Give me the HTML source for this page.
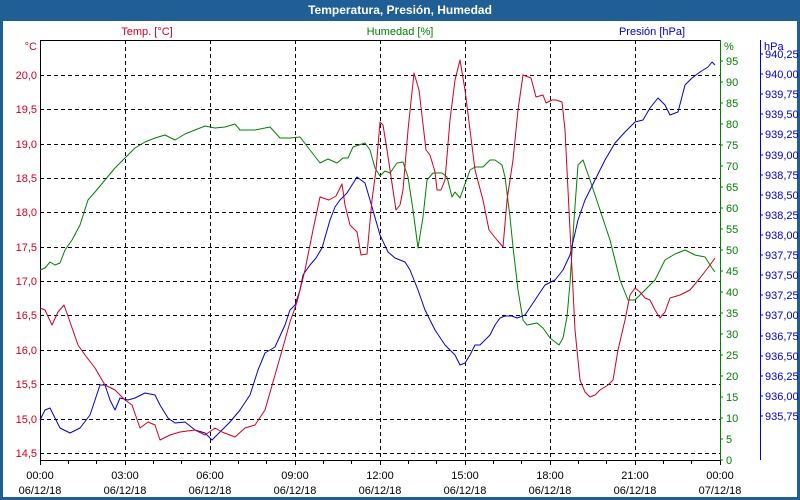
<!DOCTYPE html>
<html><head><meta charset="utf-8"><style>
html,body{margin:0;padding:0;background:#fff}
svg{display:block}
text{font-family:"Liberation Sans","DejaVu Sans",sans-serif;font-size:11px}
</style></head><body>
<svg width="800" height="500" xmlns="http://www.w3.org/2000/svg">
<rect x="0" y="0" width="800" height="500" fill="#1f5f96"/>
<rect x="3" y="21" width="794" height="476" fill="#fff"/>
<text x="400" y="14" text-anchor="middle" fill="#fff" font-weight="bold" style="font-size:12px">Temperatura, Presión, Humedad</text>
<text x="147" y="35" text-anchor="middle" fill="#d00020">Temp. [°C]</text>
<text x="400" y="35" text-anchor="middle" fill="#008000">Humedad [%]</text>
<text x="652" y="35" text-anchor="middle" fill="#0000d0">Presión [hPa]</text>
<text x="37" y="50" text-anchor="end" fill="#d00020">°C</text>
<text x="724" y="50" fill="#008000">%</text>
<text x="764" y="50" fill="#0000d0">hPa</text>
<g stroke="#000" stroke-dasharray="4,3" stroke-width="1">
<path d="M40 75.5H720M40 109.5H720M40 144.5H720M40 178.5H720M40 212.5H720M40 247.5H720M40 281.5H720M40 315.5H720M40 350.5H720M40 384.5H720M40 419.5H720M40 453.5H720"/>
<path d="M125.5 40V460M210.5 40V460M295.5 40V460M380.5 40V460M465.5 40V460M550.5 40V460M635.5 40V460"/>
</g>
<path d="M40.5 40V460.5H720M40 40.5H720" stroke="#000" fill="none"/>
<path d="M720.5 40V460.5" stroke="#008000" fill="none"/>
<path d="M760.5 40V460" stroke="#0000d0" fill="none"/>
<g stroke="#000">
<path d="M40.5 460v5M68.5 460v4M96.5 460v4M125.5 460v5M153.5 460v4M181.5 460v4M210.5 460v5M238.5 460v4M266.5 460v4M295.5 460v5M323.5 460v4M351.5 460v4M380.5 460v5M408.5 460v4M436.5 460v4M465.5 460v5M493.5 460v4M521.5 460v4M550.5 460v5M578.5 460v4M606.5 460v4M635.5 460v5M663.5 460v4M691.5 460v4M720.5 460v5"/>
</g>
<g fill="#d00020" text-anchor="end">
<text x="37" y="79">20,0</text><text x="37" y="113">19,5</text><text x="37" y="148">19,0</text><text x="37" y="182">18,5</text><text x="37" y="216">18,0</text><text x="37" y="251">17,5</text><text x="37" y="285">17,0</text><text x="37" y="319">16,5</text><text x="37" y="354">16,0</text><text x="37" y="388">15,5</text><text x="37" y="423">15,0</text><text x="37" y="457">14,5</text>
</g>
<g fill="#008000" stroke="none">
<text x="726" y="464">0</text><text x="726" y="443">5</text><text x="726" y="422">10</text><text x="726" y="401">15</text><text x="726" y="380">20</text><text x="726" y="359">25</text><text x="726" y="338">30</text><text x="726" y="317">35</text><text x="726" y="296">40</text><text x="726" y="275">45</text><text x="726" y="254">50</text><text x="726" y="233">55</text><text x="726" y="212">60</text><text x="726" y="191">65</text><text x="726" y="170">70</text><text x="726" y="149">75</text><text x="726" y="128">80</text><text x="726" y="107">85</text><text x="726" y="86">90</text><text x="726" y="65">95</text>
</g>
<path d="M720 460h3M720 439h3M720 418h3M720 397h3M720 376h3M720 355h3M720 334h3M720 313h3M720 292h3M720 271h3M720 250h3M720 229h3M720 208h3M720 187h3M720 166h3M720 145h3M720 124h3M720 103h3M720 82h3M720 61h3" stroke="#008000"/>
<g fill="#0000d0">
<text x="765" y="420">935,75</text><text x="765" y="400">936,00</text><text x="765" y="380">936,25</text><text x="765" y="360">936,50</text><text x="765" y="340">936,75</text><text x="765" y="319">937,00</text><text x="765" y="299">937,25</text><text x="765" y="279">937,50</text><text x="765" y="259">937,75</text><text x="765" y="239">938,00</text><text x="765" y="219">938,25</text><text x="765" y="199">938,50</text><text x="765" y="179">938,75</text><text x="765" y="159">939,00</text><text x="765" y="138">939,25</text><text x="765" y="118">939,50</text><text x="765" y="98">939,75</text><text x="765" y="78">940,00</text><text x="765" y="58">940,25</text>
</g>
<path d="M760 416h3M760 396h3M760 376h3M760 356h3M760 336h3M760 315h3M760 295h3M760 275h3M760 255h3M760 235h3M760 215h3M760 195h3M760 175h3M760 155h3M760 134h3M760 114h3M760 94h3M760 74h3M760 54h3" stroke="#0000d0"/>
<g fill="#000" text-anchor="middle">
<text x="40" y="479">00:00</text><text x="40" y="494">06/12/18</text>
<text x="125" y="479">03:00</text><text x="125" y="494">06/12/18</text>
<text x="210" y="479">06:00</text><text x="210" y="494">06/12/18</text>
<text x="295" y="479">09:00</text><text x="295" y="494">06/12/18</text>
<text x="380" y="479">12:00</text><text x="380" y="494">06/12/18</text>
<text x="465" y="479">15:00</text><text x="465" y="494">06/12/18</text>
<text x="550" y="479">18:00</text><text x="550" y="494">06/12/18</text>
<text x="635" y="479">21:00</text><text x="635" y="494">06/12/18</text>
<text x="720" y="479">00:00</text><text x="720" y="494">07/12/18</text>
</g>
<g fill="none" stroke-width="1" stroke-linejoin="round">
<polyline stroke="#008000" points="40,270 45,268 50,262 55,265 60,263 65,250 72,240 80,225 88,200 95,192 105,180 115,168 125,158 135,148 145,142 155,138 165,135 175,140 185,134 195,130 205,126 215,128 225,127 235,124 240,130 255,130 270,127 280,138 290,138 300,137 310,150 320,163 328,159 337,163 343,158 348,158 353,147 365,143 370,150 375,168 380,176 385,171 390,173 397,163 403,162 408,177 413,210 418,248 423,217 427,180 433,173 442,173 447,177 452,197 455,192 460,198 470,170 475,167 483,167 490,160 495,160 502,165 505,177 510,217 513,247 518,290 523,320 527,325 537,323 543,328 550,338 559,345 563,338 567,317 570,283 574,220 578,165 583,160 590,180 600,210 610,240 620,280 628,300 635,300 645,290 655,280 665,260 675,254 685,250 695,255 705,257 712,268 715,272"/>
<polyline stroke="#0000d0" points="40,420 45,410 50,408 55,418 60,428 70,433 80,428 90,415 100,385 105,385 110,400 115,410 120,398 128,400 135,398 145,393 155,395 160,405 168,418 175,423 185,422 195,430 205,433 212,440 220,432 230,422 240,410 250,395 258,370 265,353 275,347 285,325 290,310 295,305 300,290 303,275 310,265 316,258 322,248 330,220 335,207 340,200 347,193 357,177 365,183 370,200 380,235 388,252 395,258 400,260 405,262 410,270 418,290 425,310 435,330 445,345 455,355 460,365 465,363 470,355 475,345 480,345 490,335 495,325 500,318 505,316 512,316 517,318 525,315 535,300 545,285 555,280 563,270 570,255 578,220 585,200 595,180 605,160 615,143 625,132 635,122 643,120 650,108 658,98 665,105 670,115 678,112 685,85 692,78 700,72 708,67 712,62 715,65"/>
<polyline stroke="#d00020" points="40,308 45,310 52,325 58,312 64,305 70,322 78,345 85,355 95,368 105,385 115,390 125,400 132,405 140,428 148,422 155,425 160,440 170,435 180,432 195,430 205,435 215,428 222,432 235,437 245,428 255,425 265,410 275,375 285,340 290,322 297,302 305,270 313,230 320,197 329,200 336,196 342,184 345,205 350,225 357,232 361,255 367,254 372,200 376,170 380,122 383,125 387,150 390,170 396,210 400,205 403,190 408,130 414,73 419,90 426,150 430,155 435,172 437,190 441,190 445,180 450,120 455,80 460,60 465,90 470,130 475,170 483,200 489,230 497,240 503,247 507,200 513,160 518,110 523,75 531,78 536,97 543,95 546,103 552,100 556,100 562,102 565,130 570,230 575,330 580,380 585,392 590,397 595,395 600,390 608,385 613,380 618,350 625,320 630,295 635,288 640,292 645,298 650,300 655,310 660,318 665,312 670,298 680,295 690,290 700,278 710,265 715,258"/>
</g>
</svg>
</body></html>
